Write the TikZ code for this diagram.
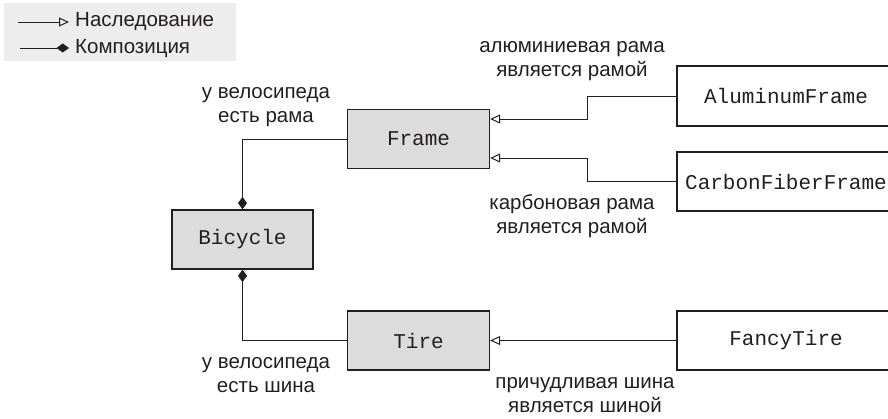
\documentclass[tikz,border=0pt]{standalone}
\usepackage{fontspec}
\setmainfont{Liberation Sans}
\setmonofont{Liberation Mono}
\usetikzlibrary{arrows.meta}
\definecolor{ink}{HTML}{231F20}
\definecolor{boxgray}{HTML}{DCDCDC}
\definecolor{legendbg}{HTML}{EDEDEE}
\tikzset{
  cls/.style={draw=ink, line width=1.3pt, text=ink, font=\ttfamily\fontsize{21}{26}\selectfont, inner sep=0pt},
  base/.style={cls, fill=boxgray},
  sub/.style={cls, fill=white, minimum width=224pt},
  lbl/.style={text=ink, font=\fontsize{20.5}{23.5}\selectfont, align=center, inner sep=0pt},
  conn/.style={draw=ink, line width=1pt},
  inh/.style={conn, -{Triangle[open, length=10pt, width=9pt, line width=1pt]}},
  comp/.style={conn, -{Diamond[length=12.5pt, width=9pt, fill=ink]}},
}
\begin{document}
\begin{tikzpicture}[x=1pt, y=-1pt]
\useasboundingbox (0,0) rectangle (888,418);
% legend
\fill[legendbg] (4,3) rectangle (236,61);
\coordinate (l1a) at (18,22);
\coordinate (l1b) at (69,22);
\coordinate (l2a) at (20,48);
\coordinate (l2b) at (69,48);
\draw[inh] (l1a) -- (l1b);
\draw[comp] (l2a) -- (l2b);
\node[lbl, anchor=west] (leg1) at (75,21) {Наследование};
\node[lbl, anchor=west] (leg2) at (75,48) {Композиция};
% classes
\node[base, minimum width=141pt, minimum height=59pt] (bicycle) at (242.5,239.5) {Bicycle};
\node[base, minimum width=142pt, minimum height=59pt] (frame) at (418.5,139) {Frame};
\node[base, minimum width=142pt, minimum height=59pt] (tire) at (418.5,340.5) {Tire};
\node[sub, minimum height=60pt] (alu) at (789,96) {\kern-6pt AluminumFrame};
\node[sub, minimum height=59pt] (carbon) at (789,181.5) {\kern-6pt CarbonFiberFrame};
\node[sub, minimum height=59pt] (fancy) at (789,340.5) {\kern-6pt FancyTire};
% connectors
\draw[comp] (frame.west) -| (bicycle.north);
\draw[comp] (tire.west) -| (bicycle.south);
\coordinate (ja) at (587,96);
\coordinate (jb) at (587,119);
\coordinate (jc) at (587,181.5);
\coordinate (jd) at (587,158);
\draw[inh] (alu.west) -- (ja) -- (jb) -- (frame.east |- jb);
\draw[inh] (carbon.west) -- (jc) -- (jd) -- (frame.east |- jd);
\draw[inh] (fancy.west) -- (tire.east);
% labels
\node[lbl] (t1) at (572,61) {алюминиевая рама\\является рамой};
\node[lbl] (t2) at (266,107) {у велосипеда\\есть рама};
\node[lbl] (t3) at (572,216) {карбоновая рама\\является рамой};
\node[lbl] (t4) at (266,375) {у велосипеда\\есть шина};
\node[lbl] (t5) at (585,395) {причудливая шина\\является шиной};
\end{tikzpicture}
\end{document}
